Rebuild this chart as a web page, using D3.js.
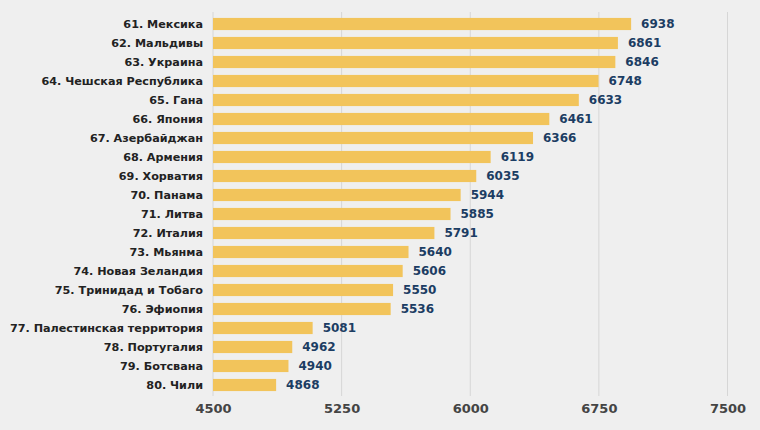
<!DOCTYPE html>
<html><head><meta charset="utf-8">
<script src="https://cdn.jsdelivr.net/npm/d3@7"></script>
<style>html,body{margin:0;padding:0;background:#efefef;}svg{display:block;}</style>
</head><body>
<svg id="c" width="760" height="430"></svg>
<script>
const categories = ["61. Мексика","62. Мальдивы","63. Украина","64. Чешская Республика","65. Гана","66. Япония","67. Азербайджан","68. Армения","69. Хорватия","70. Панама","71. Литва","72. Италия","73. Мьянма","74. Новая Зеландия","75. Тринидад и Тобаго","76. Эфиопия","77. Палестинская территория","78. Португалия","79. Ботсвана","80. Чили"];
const values = [6938,6861,6846,6748,6633,6461,6366,6119,6035,5944,5885,5791,5640,5606,5550,5536,5081,4962,4940,4868];
const ticks = [4500,5250,6000,6750,7500];

const FONT = "DejaVu Sans, Verdana, sans-serif";
const svg = d3.select("#c");
svg.append("rect").attr("width",760).attr("height",430).attr("fill","#efefef");
const x = d3.scaleLinear().domain([4500,7500]).range([213,727.5]);
const y = d3.scaleBand().domain(categories).range([14.5,394.5]).paddingInner(0.36).paddingOuter(0.18);

svg.append("g").selectAll("line").data(ticks).join("line")
  .attr("x1",d=>x(d)).attr("x2",d=>x(d)).attr("y1",12).attr("y2",396)
  .attr("stroke","#d6d6d6").attr("stroke-width",1);

svg.append("g").selectAll("rect").data(values).join("rect")
  .attr("x",x(4500)).attr("y",(d,i)=>y(categories[i]))
  .attr("width",d=>x(d)-x(4500)).attr("height",y.bandwidth())
  .attr("fill","#f2c45b");

svg.append("g").selectAll("text").data(categories).join("text")
  .attr("x",203).attr("y",d=>y(d)+y.bandwidth()/2).attr("dy","0.36em")
  .attr("text-anchor","end").attr("font-family",FONT)
  .attr("font-weight","bold").attr("font-size","11.2px").attr("fill","#222")
  .text(d=>d);

svg.append("g").selectAll("text").data(values).join("text")
  .attr("x",d=>x(d)+10).attr("y",(d,i)=>y(categories[i])+y.bandwidth()/2).attr("dy","0.36em")
  .attr("font-family",FONT)
  .attr("font-weight","bold").attr("font-size","12px").attr("fill","#1c3d63")
  .text(d=>d);

const ax = d3.axisBottom(x).tickValues(ticks).tickSize(0).tickPadding(0).tickFormat(d3.format("d"));
const g = svg.append("g").attr("transform","translate(0,404)").call(ax);
g.select(".domain").remove();
g.selectAll("text").attr("font-family",FONT)
  .attr("font-weight","bold").attr("font-size","13px").attr("fill","#444").attr("dy","0.71em");
</script>
</body></html>
